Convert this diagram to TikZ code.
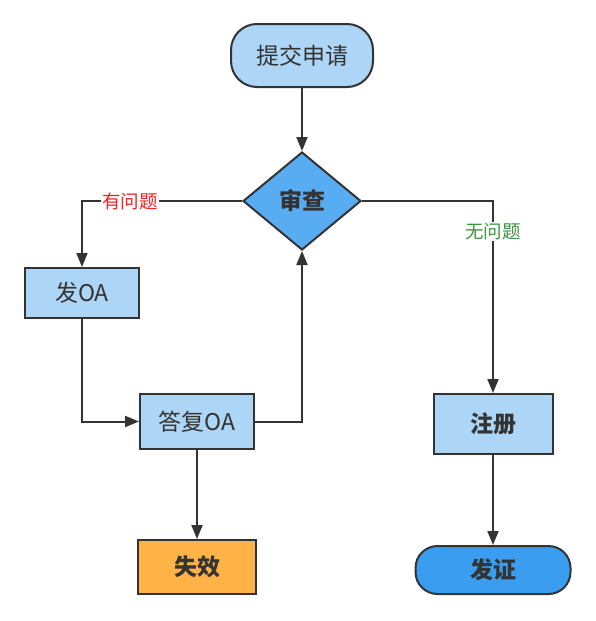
\documentclass[tikz,border=0pt]{standalone}
\usepackage{fontspec}
\setmainfont{Noto Sans CJK SC}
\usetikzlibrary{arrows.meta,shapes.geometric}
\definecolor{lblue}{HTML}{ACD5F6}
\definecolor{dblue}{HTML}{58ACF2}
\definecolor{bblue}{HTML}{3B9DF0}
\definecolor{orng}{HTML}{FFB347}
\definecolor{ink}{HTML}{333333}
\definecolor{lred}{HTML}{F52020}
\definecolor{lgreen}{HTML}{3C963C}
\tikzset{
  box/.style={draw=ink, line width=2pt, text=ink, inner sep=0pt, font=\fontsize{23}{26}\selectfont},
  bbox/.style={box, font=\fontsize{23}{26}\selectfont\bfseries},
  conn/.style={draw=ink, line width=2pt, -{Triangle[width=11pt,length=14pt]}},
  lbl/.style={fill=white, inner sep=1pt, font=\fontsize{18.5}{21}\selectfont}
}
\begin{document}
\begin{tikzpicture}[x=1pt,y=-1pt]
\useasboundingbox (0,0) rectangle (596,621);
\node[box, fill=lblue, rounded corners=26pt, minimum width=142pt, minimum height=63pt] (start) at (302,55.5) {提交申请};
\node[bbox, fill=dblue, shape=diamond, aspect=1.2, minimum width=118pt, minimum height=98pt] (review) at (302,201) {审查};
\node[box, fill=lblue, minimum width=114pt, minimum height=50pt] (faoa) at (82,293) {发OA};
\node[box, fill=lblue, minimum width=114pt, minimum height=55pt] (dafu) at (197,421.5) {答复OA};
\node[bbox, fill=lblue, minimum width=119pt, minimum height=60pt] (zhuce) at (493,424) {注册};
\node[bbox, fill=orng, minimum width=118pt, minimum height=54pt] (shixiao) at (197,567) {失效};
\node[bbox, fill=bblue, rounded corners=22pt, minimum width=155pt, minimum height=48pt] (fazheng) at (493,570) {发证};
\draw[conn] (start.south) -- (review.north);
\draw[conn] (review.west) -| node[lbl, text=lred, pos=0.35] {有问题} (faoa.north);
\draw[conn] (review.east) -| node[lbl, text=lgreen, pos=0.58] {无问题} (zhuce.north);
\draw[conn] (faoa.south) |- (dafu.west);
\draw[conn] (dafu.east) -| (review.south);
\draw[conn] (dafu.south) -- (shixiao.north);
\draw[conn] (zhuce.south) -- (fazheng.north);
\end{tikzpicture}
\end{document}
